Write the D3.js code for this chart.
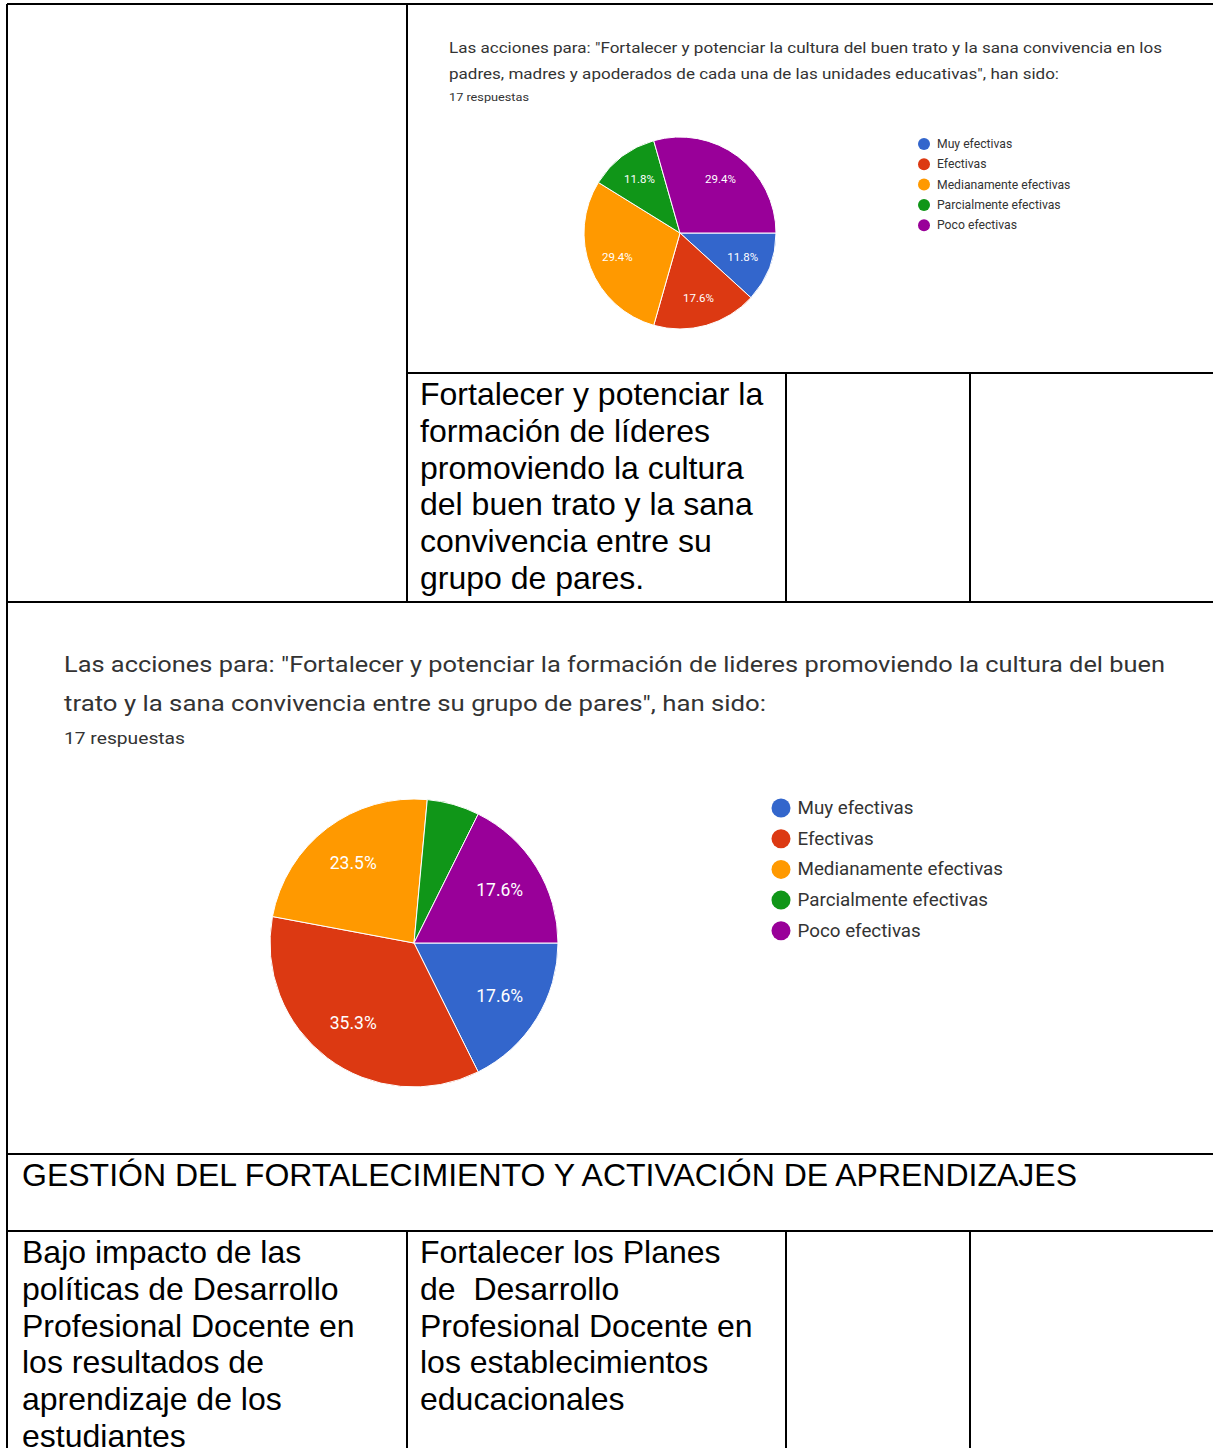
<!DOCTYPE html>
<html>
<head>
<meta charset="utf-8">
<script src="https://cdn.jsdelivr.net/npm/d3@7"></script>
<style>
  body { margin: 0; background: #fff; }
  svg { display: block; }
  .cell-text { font-family: 'Liberation Sans', Arial, sans-serif; font-size: 32px; fill: #000; }
  .gf { font-family: Roboto, 'Noto Sans', sans-serif; }
</style>
</head>
<body>
<div id="page"></div>
<script>
// answer options, shared by both charts
const categories = [
  'Muy efectivas',
  'Efectivas',
  'Medianamente efectivas',
  'Parcialmente efectivas',
  'Poco efectivas',
];

const colors = ['#3366cc', '#dc3912', '#ff9900', '#109618', '#990099'];

// response counts (17 respuestas each)
const counts1 = [2, 3, 5, 2, 5];
const counts2 = [3, 6, 4, 1, 3];

const title1 = [
  'Las acciones para: "Fortalecer y potenciar la cultura del buen trato y la sana convivencia en los',
  'padres, madres y apoderados de cada una de las unidades educativas", han sido:',
];
const title2 = [
  'Las acciones para: "Fortalecer y potenciar la formación de lideres promoviendo la cultura del buen',
  'trato y la sana convivencia entre su grupo de pares", han sido:',
];
const responses = '17 respuestas';

const cellLeader = [
  'Fortalecer y potenciar la',
  'formación de líderes',
  'promoviendo la cultura',
  'del buen trato y la sana',
  'convivencia entre su',
  'grupo de pares.',
];
const sectionTitle = 'GESTIÓN DEL FORTALECIMIENTO Y ACTIVACIÓN DE APRENDIZAJES';
const cellProblem = [
  'Bajo impacto de las',
  'políticas de Desarrollo',
  'Profesional Docente en',
  'los resultados de',
  'aprendizaje de los',
  'estudiantes',
];
const cellAction = [
  'Fortalecer los Planes',
  'de  Desarrollo',
  'Profesional Docente en',
  'los establecimientos',
  'educacionales',
];

const width = 1213,
  height = 1448;

const svg = d3
  .select('#page')
  .append('svg')
  .attr('width', width)
  .attr('height', height);

// ---- table grid ----
const L = 7,
  R = width,
  c1 = 407,
  c2 = 786,
  c3 = 970;
const rows = { top: 4, sub: 373, r2: 602, r3: 1154, r4: 1231, bottom: height };

const gridLines = [
  [L, rows.top, R, rows.top],
  [L, rows.top, L, rows.bottom],
  [c1, rows.top, c1, rows.r2],
  [c1, rows.sub, R, rows.sub],
  [c2, rows.sub, c2, rows.r2],
  [c3, rows.sub, c3, rows.r2],
  [L, rows.r2, R, rows.r2],
  [L, rows.r3, R, rows.r3],
  [L, rows.r4, R, rows.r4],
  [c1, rows.r4, c1, rows.bottom],
  [c2, rows.r4, c2, rows.bottom],
  [c3, rows.r4, c3, rows.bottom],
];

svg
  .append('g')
  .selectAll('line')
  .data(gridLines)
  .enter()
  .append('line')
  .attr('x1', (d) => d[0])
  .attr('y1', (d) => d[1])
  .attr('x2', (d) => d[2])
  .attr('y2', (d) => d[3])
  .attr('stroke', '#000')
  .attr('stroke-width', 2);

function cellText(lines, x, top) {
  svg
    .append('g')
    .selectAll('text')
    .data(lines)
    .enter()
    .append('text')
    .attr('class', 'cell-text')
    .attr('x', x)
    .attr('y', (d, i) => top + 32 + i * 36.8)
    .attr('xml:space', 'preserve')
    .text((d) => d);
}

cellText(cellLeader, 420, rows.sub);
cellText([sectionTitle], 22, rows.r3);
cellText(cellProblem, 22, rows.r4);
cellText(cellAction, 420, rows.r4);

// ---- google forms style pie ----
function drawPie(opts) {
  const g = svg.append('g').attr('class', 'gf');

  g.selectAll('text.title')
    .data(opts.title)
    .enter()
    .append('text')
    .attr('class', 'title')
    .attr('x', opts.tx)
    .attr('y', (d, i) => opts.ty + i * opts.tGap)
    .attr('font-size', opts.tSize)
    .attr('fill', '#333')
    .attr('textLength', (d, i) => opts.tLen[i])
    .attr('lengthAdjust', 'spacingAndGlyphs')
    .text((d) => d);

  g.append('text')
    .attr('x', opts.tx)
    .attr('y', opts.ry)
    .attr('font-size', opts.rSize)
    .attr('fill', '#333')
    .attr('textLength', opts.rLen)
    .attr('lengthAdjust', 'spacingAndGlyphs')
    .text(responses);

  const total = d3.sum(opts.values);
  const pie = d3
    .pie()
    .sort(null)
    .startAngle(Math.PI / 2)
    .endAngle(Math.PI / 2 + 2 * Math.PI);
  const arcs = pie(opts.values);
  const arc = d3.arc().innerRadius(0).outerRadius(opts.r);
  const labelArc = d3
    .arc()
    .innerRadius(opts.r * 0.7)
    .outerRadius(opts.r * 0.7);

  const pg = g.append('g').attr('transform', `translate(${opts.cx},${opts.cy})`);

  pg.selectAll('path')
    .data(arcs)
    .enter()
    .append('path')
    .attr('d', arc)
    .attr('fill', (d, i) => colors[i])
    .attr('stroke', '#fff')
    .attr('stroke-width', 1);

  const fmt = d3.format('.1%');
  pg.selectAll('text')
    .data(arcs.filter((d) => d.value / total >= 0.08))
    .enter()
    .append('text')
    .attr('transform', (d) => `translate(${labelArc.centroid(d)})`)
    .attr('text-anchor', 'middle')
    .attr('dominant-baseline', 'central')
    .attr('font-size', opts.lSize)
    .attr('fill', '#fff')
    .text((d) => fmt(d.value / total));

  const lg = g
    .append('g')
    .selectAll('g')
    .data(categories)
    .enter()
    .append('g')
    .attr('transform', (d, i) => `translate(${opts.lx},${opts.ly + i * opts.lGap})`);

  lg.append('circle')
    .attr('r', opts.dot)
    .attr('fill', (d, i) => colors[i]);

  lg.append('text')
    .attr('x', opts.dot + 7)
    .attr('dominant-baseline', 'central')
    .attr('font-size', opts.legSize)
    .attr('fill', '#333')
    .text((d) => d);
}

drawPie({
  title: title1,
  tx: 449,
  ty: 53,
  tGap: 26,
  tSize: 14.5,
  tLen: [713, 610],
  ry: 101,
  rSize: 11,
  rLen: 80,
  values: counts1,
  cx: 680,
  cy: 233,
  r: 96,
  lSize: 11.5,
  lx: 924,
  ly: 144,
  lGap: 20.3,
  dot: 6,
  legSize: 12.2,
});

drawPie({
  title: title2,
  tx: 64,
  ty: 672,
  tGap: 39,
  tSize: 22,
  tLen: [1101, 702],
  ry: 744,
  rSize: 17,
  rLen: 121,
  values: counts2,
  cx: 414,
  cy: 943,
  r: 144,
  lSize: 17.5,
  lx: 781,
  ly: 808,
  lGap: 30.7,
  dot: 9.5,
  legSize: 18.8,
});
</script>
</body>
</html>
